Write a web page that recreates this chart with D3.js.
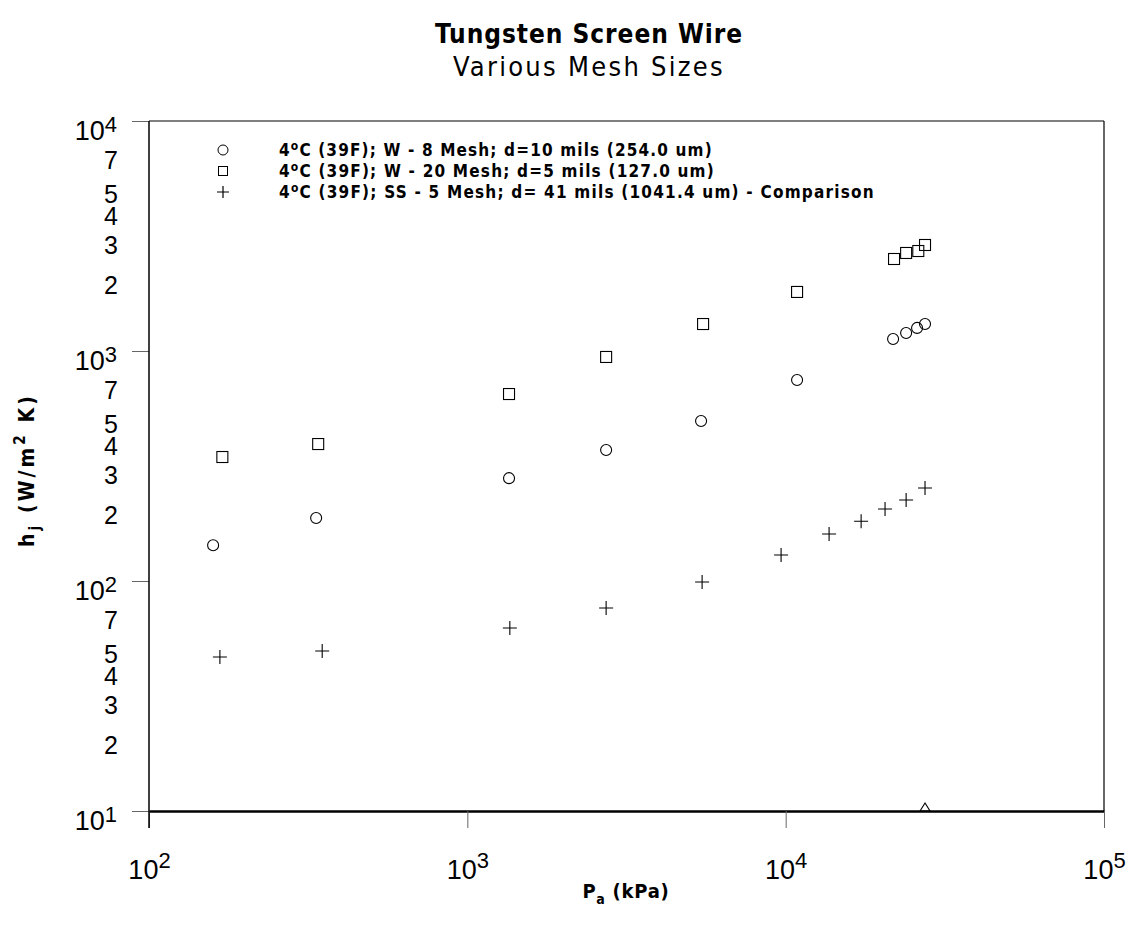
<!DOCTYPE html>
<html><head><meta charset="utf-8">
<script src="https://cdn.jsdelivr.net/npm/d3@7"></script>
<style>
body{margin:0;background:#fff;}
svg{display:block;}
</style></head>
<body>
<svg id="chart" width="1133" height="927"></svg>
<script>
const title = "Tungsten Screen Wire";
const subtitle = "Various Mesh Sizes";
const xDecades = [100, 1000, 10000, 100000];
const yDecades = [10, 100, 1000, 10000];
const yMinor = [20, 30, 40, 50, 70, 200, 300, 400, 500, 700, 2000, 3000, 4000, 5000, 7000];

const w8X = [159, 335, 1352, 2729, 5423, 10860, 21750, 23900, 25870, 27400];
const w8Y = [143, 188, 280, 371, 496, 748, 1128, 1198, 1260, 1310];
const w20X = [170, 340, 1352, 2729, 5503, 10860, 21900, 23900, 26100, 27400];
const w20Y = [346, 394, 650, 942, 1310, 1806, 2512, 2668, 2721, 2890];
const ssX = [167, 350, 1360, 2729, 5464, 9674, 13690, 17260, 20520, 23900, 27400];
const ssY = [46.7, 49.6, 62.5, 76.3, 99, 129.8, 160, 182, 205.6, 225, 253.7];
const triX = [27400];
const triY = [10];

const legendLabels = [
  "(39F); W - 8 Mesh; d=10 mils (254.0 um)",
  "(39F); W - 20 Mesh; d=5 mils (127.0 um)",
  "(39F); SS - 5 Mesh; d= 41 mils (1041.4 um) - Comparison"
];

const svg = d3.select("#chart");
const L = 149, R = 1104, T = 121, B = 811;
const x = d3.scaleLog().domain([100, 100000]).range([L, R]);
const y = d3.scaleLog().domain([10, 10000]).range([B, T]);

const cond = "'DejaVu Sans Condensed','DejaVu Sans',sans-serif";
const arial = "'Liberation Sans',Arial,sans-serif";

function fit(sel, target) {
  const n = sel.text().length;
  const w = sel.node().getBBox().width;
  sel.attr("letter-spacing", ((target - w) / n).toFixed(2));
}

// Titles
const t1 = svg.append("text").attr("x", 589).attr("y", 43).attr("text-anchor", "middle")
  .attr("font-family", cond).attr("font-weight", "bold").attr("font-size", 26)
  .text(title);
fit(t1, 308);
const t2 = svg.append("text").attr("x", 589).attr("y", 76).attr("text-anchor", "middle")
  .attr("font-family", cond).attr("font-size", 27)
  .text(subtitle);
fit(t2, 272);

// Frame top/right
svg.append("line").attr("x1", L).attr("x2", R).attr("y1", T).attr("y2", T).attr("stroke", "#000").attr("stroke-width", 1.2);
svg.append("line").attr("x1", R).attr("x2", R).attr("y1", T).attr("y2", B).attr("stroke", "#000").attr("stroke-width", 1.2);

// X axis
const gx = svg.append("g").attr("transform", `translate(0,${B})`)
  .call(d3.axisBottom(x).tickValues(xDecades).tickSize(17).tickSizeOuter(0).tickFormat(() => ""));
gx.select(".domain").attr("stroke", "#000").attr("stroke-width", 2.5);
gx.selectAll(".tick line").attr("stroke", "#666").attr("stroke-width", 1);
gx.selectAll(".tick").each(function(d) {
  const t = d3.select(this).append("text").attr("y", 68).attr("fill", "#000")
    .attr("font-family", arial).attr("font-size", 27).attr("text-anchor", "middle");
  t.append("tspan").text("10");
  t.append("tspan").attr("dy", -11).attr("font-size", 22).text(Math.round(Math.log10(d)));
});

// Y axis decades
const gy = svg.append("g").attr("transform", `translate(${L},0)`)
  .call(d3.axisLeft(y).tickValues(yDecades).tickSize(17).tickSizeOuter(0).tickFormat(() => ""));
gy.select(".domain").remove();
gy.selectAll(".tick line").attr("stroke", "#666");
gy.selectAll(".tick").each(function(d) {
  const t = d3.select(this).append("text").attr("x", -32).attr("y", 18).attr("fill", "#000")
    .attr("font-family", arial).attr("font-size", 27).attr("text-anchor", "end");
  t.append("tspan").text("10");
  t.append("tspan").attr("dy", -8).attr("font-size", 22).text(Math.round(Math.log10(d)));
});
// Y minor labels
const gym = svg.append("g").attr("transform", `translate(${L},0)`)
  .call(d3.axisLeft(y).tickValues(yMinor).tickSize(0).tickPadding(31).tickFormat(d => String(d).charAt(0)));
gym.select(".domain").remove();
gym.selectAll(".tick text").attr("font-family", arial).attr("font-size", 25).attr("fill", "#000").attr("dy", 12);
// left axis line (extends below)
svg.append("line").attr("x1", L).attr("x2", L).attr("y1", T).attr("y2", 828).attr("stroke", "#000").attr("stroke-width", 1.5);

// Axis titles
const xt = svg.append("text").attr("x", 626).attr("y", 898).attr("text-anchor", "middle")
  .attr("font-family", cond).attr("font-weight", "bold").attr("font-size", 20);
xt.append("tspan").text("P");
xt.append("tspan").attr("dy", 6).attr("font-size", 14).text("a");
xt.append("tspan").attr("dy", -6).text("  (kPa)");
fit(xt, 88);

const yt = svg.append("text").attr("transform", "translate(34,470) rotate(-90)").attr("text-anchor", "middle")
  .attr("font-family", cond).attr("font-weight", "bold").attr("font-size", 21);
yt.append("tspan").text("h");
yt.append("tspan").attr("dy", 6).attr("font-size", 15).text("j");
yt.append("tspan").attr("dy", -6).text("  (W/m");
yt.append("tspan").attr("dy", -9).attr("font-size", 15).text("2");
yt.append("tspan").attr("dy", 9).text("  K)");
fit(yt, 160);

// Markers
const mk = svg.append("g").attr("fill", "none").attr("stroke", "#000").attr("stroke-width", 1.1);
const zip = (a, b) => a.map((v, i) => [v, b[i]]);
mk.selectAll("circle.w8").data(zip(w8X, w8Y)).join("circle")
  .attr("cx", d => x(d[0])).attr("cy", d => y(d[1])).attr("r", 5.5);
mk.selectAll("rect.w20").data(zip(w20X, w20Y)).join("rect")
  .attr("x", d => x(d[0]) - 5.5).attr("y", d => y(d[1]) - 5.5).attr("width", 11).attr("height", 11);
mk.selectAll("path.ss").data(zip(ssX, ssY)).join("path")
  .attr("d", d => { const cx = x(d[0]), cy = y(d[1]); return `M${cx-7},${cy}H${cx+7}M${cx},${cy-7}V${cy+7}`; });
mk.selectAll("path.tri").data(zip(triX, triY)).join("path")
  .attr("d", d => { const cx = x(d[0]), cy = y(d[1]); return `M${cx-5},${cy}L${cx},${cy-8}L${cx+5},${cy}Z`; });

// Legend
const lg = svg.append("g");
const ly = [150, 171, 192];
const lEnds = [714, 716, 876];
lg.append("circle").attr("cx", 223).attr("cy", ly[0]).attr("r", 5).attr("fill", "none").attr("stroke", "#000");
lg.append("rect").attr("x", 218.5).attr("y", ly[1] - 4.5).attr("width", 9).attr("height", 9).attr("fill", "none").attr("stroke", "#000");
lg.append("path").attr("d", `M217,${ly[2]}H229M223,${ly[2]-6}V${ly[2]+6}`).attr("stroke", "#000").attr("stroke-width", 1.2);
legendLabels.forEach((lab, i) => {
  const t = lg.append("text").attr("x", 279).attr("y", ly[i] + 6).attr("font-family", cond)
    .attr("font-weight", "bold").attr("font-size", 17);
  t.append("tspan").text("4");
  t.append("tspan").attr("dy", -6).attr("font-size", 12).text("o");
  t.append("tspan").attr("dy", 6).text("C  " + lab);
  fit(t, lEnds[i] - 279);
});
</script>
</body></html>
